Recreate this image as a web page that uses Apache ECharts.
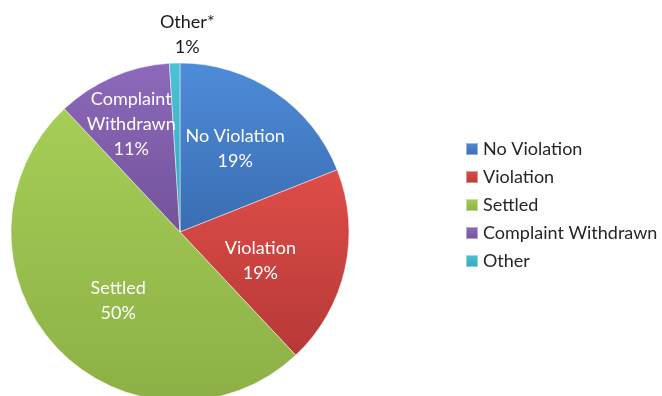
<!DOCTYPE html>
<html>
<head>
<meta charset="utf-8">
<script src="https://cdn.jsdelivr.net/npm/echarts@6/dist/echarts.min.js"></script>
<style>html,body{margin:0;padding:0;background:#fff}#c{width:662px;height:396px}</style>
</head>
<body>
<div id="c"></div>
<script>
var categories = ['No Violation', 'Violation', 'Settled', 'Complaint Withdrawn', 'Other'];
var labelNames = ['No Violation', 'Violation', 'Settled', 'Complaint\nWithdrawn', 'Other*'];
var values = [19, 19, 50, 11, 1];
var topColors = ['#4e8bd9', '#de4d49', '#a5ce56', '#8d69bb', '#4cc2d8'];
var bottomColors = ['#3a6db2', '#b63936', '#8db046', '#73539a', '#35a6ba'];
var labelOffsets = [[6, -11], [-5, 10], [2, 9], [-14, -28], [10, -110]];
var labelColors = ['#fff', '#fff', '#fff', '#fff', '#1a1a1a'];

var chart = echarts.init(document.getElementById('c'));
var data = categories.map(function (name, i) {
  return {
    name: name,
    value: values[i],
    itemStyle: {
      color: new echarts.graphic.LinearGradient(0, 0, 0, 1, [
        { offset: 0, color: topColors[i] },
        { offset: 1, color: bottomColors[i] }
      ])
    },
    label: {
      offset: labelOffsets[i],
      color: labelColors[i],
      formatter: labelNames[i] + '\n' + values[i] + '%'
    }
  };
});
chart.setOption({
  animation: false,
  legend: {
    orient: 'vertical',
    left: 460,
    top: 135,
    itemWidth: 12,
    itemHeight: 12,
    itemGap: 10,
    icon: 'rect',
    textStyle: { fontFamily: 'Lato', fontSize: 18, color: '#262626' },
    data: categories
  },
  series: [{
    type: 'pie',
    center: [180, 232],
    radius: 169,
    startAngle: 90,
    clockwise: true,
    avoidLabelOverlap: false,
    label: {
      show: true,
      position: 'inside',
      fontFamily: 'Lato',
      fontSize: 18,
      lineHeight: 25,
      align: 'center'
    },
    labelLine: { show: false },
    itemStyle: { borderColor: 'rgba(255,255,255,0.45)', borderWidth: 1 },
    emphasis: { disabled: true },
    data: data
  }]
});
</script>
</body>
</html>
